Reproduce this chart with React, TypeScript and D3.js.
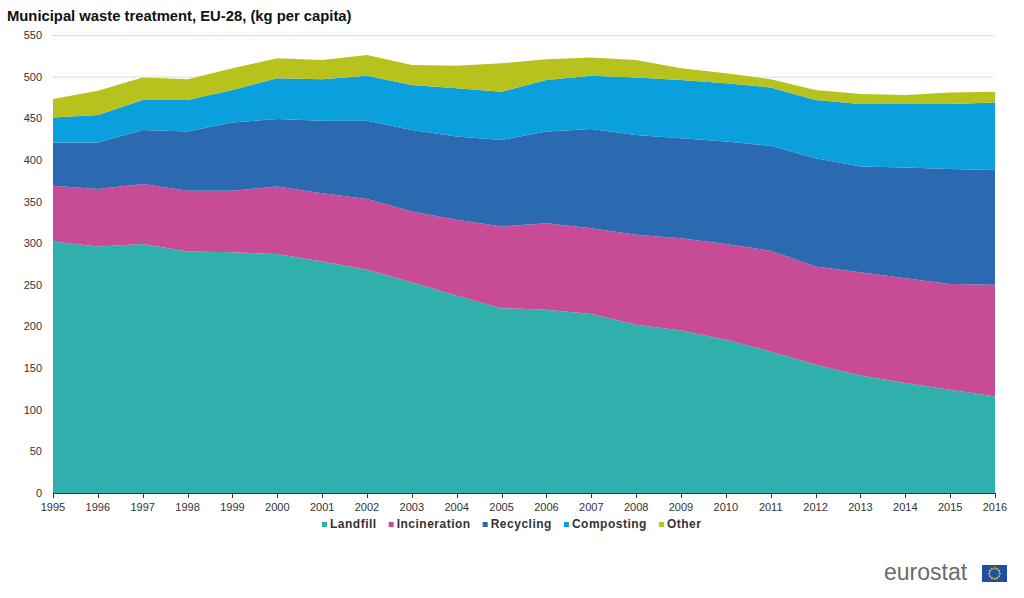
import React, { useEffect, useRef } from "react";
import * as d3 from "d3";

const years = [1995, 1996, 1997, 1998, 1999, 2000, 2001, 2002, 2003, 2004, 2005, 2006, 2007, 2008, 2009, 2010, 2011, 2012, 2013, 2014, 2015, 2016];
const landfill = [302, 296, 299, 290, 289, 287, 278, 268, 253, 237, 222, 220, 215, 202, 195, 184, 170, 154, 141, 132, 124, 116];
const incineration = [67, 69, 72, 73, 74, 81, 82, 85, 85, 91, 98, 104, 103, 108, 111, 115, 121, 118, 124, 126, 127, 134];
const recycling = [52, 56, 65, 71, 82, 81, 87, 94, 98, 100, 104, 110, 119, 120, 120, 123, 126, 130, 127, 133, 138, 138];
const composting = [30, 33, 36, 38, 39, 49, 50, 54, 54, 58, 58, 62, 64, 69, 70, 70, 70, 70, 75, 76, 78, 81];
const other = [22, 29, 27, 25, 26, 24, 23, 25, 24, 27, 34, 25, 22, 21, 14, 12, 10, 12, 12, 11, 14, 13];
const seriesNames = ["Landfill", "Incineration", "Recycling", "Composting", "Other"];
const seriesColors = ["#30b0ad", "#c84b95", "#2b69b0", "#0a9fdd", "#b7c21d"];
const yTicks = [0, 50, 100, 150, 200, 250, 300, 350, 400, 450, 500, 550];

const W = 1024;
const H = 598;
const font = "'Liberation Sans', Arial, sans-serif";

function App() {
  const ref = useRef<SVGSVGElement | null>(null);

  useEffect(() => {
    const svg = d3.select(ref.current);
    svg.selectAll("*").remove();

    const margin = { top: 35, right: 29, bottom: 105, left: 53 };
    const x = d3.scaleLinear().domain([1995, 2016]).range([margin.left, W - margin.right]);
    const y = d3.scaleLinear().domain([0, 550]).range([H - margin.bottom, margin.top]);

    const allSeries = [landfill, incineration, recycling, composting, other];
    const rows = years.map((yr, i) => {
      const row: any = { year: yr };
      seriesNames.forEach((n, k) => (row[n] = allSeries[k][i]));
      return row;
    });
    const stacked = d3.stack().keys(seriesNames)(rows);

    // title
    svg
      .append("text")
      .text("Municipal waste treatment, EU-28, (kg per capita)")
      .attr("x", 7)
      .attr("y", 21)
      .attr("font-family", font)
      .attr("font-weight", "bold")
      .attr("font-size", "14.8px")
      .attr("fill", "#111");

    // grid
    svg
      .append("g")
      .selectAll("line")
      .data(yTicks.filter((t) => t > 0))
      .enter()
      .append("line")
      .attr("x1", x(1995))
      .attr("x2", x(2016))
      .attr("y1", (d) => y(d) + 0.5)
      .attr("y2", (d) => y(d) + 0.5)
      .attr("stroke", "#bbb")
      .attr("stroke-width", 1)
      .attr("stroke-dasharray", "1,1");

    const area = d3
      .area<any>()
      .x((d) => x(d.data.year))
      .y0((d) => y(d[0]))
      .y1((d) => y(d[1]));

    svg
      .append("g")
      .selectAll("path")
      .data(stacked)
      .enter()
      .append("path")
      .attr("d", area)
      .attr("fill", (_, i) => seriesColors[i]);

    // y labels
    svg
      .append("g")
      .selectAll("text")
      .data(yTicks)
      .enter()
      .append("text")
      .text((d) => d)
      .attr("x", 42)
      .attr("y", (d) => y(d) + 4)
      .attr("text-anchor", "end")
      .attr("font-family", font)
      .attr("font-size", "11px")
      .attr("fill", "#333");

    // x axis
    const xAxis = svg.append("g");
    xAxis
      .append("line")
      .attr("x1", x(1995))
      .attr("x2", x(2016))
      .attr("y1", y(0) + 0.5)
      .attr("y2", y(0) + 0.5)
      .attr("stroke", "#333");
    xAxis
      .selectAll("line.tick")
      .data(years)
      .enter()
      .append("line")
      .attr("class", "tick")
      .attr("x1", (d) => Math.round(x(d)) + 0.5)
      .attr("x2", (d) => Math.round(x(d)) + 0.5)
      .attr("y1", y(0))
      .attr("y2", y(0) + 5)
      .attr("stroke", "#333");
    xAxis
      .selectAll("text")
      .data(years)
      .enter()
      .append("text")
      .text((d) => d)
      .attr("x", (d) => x(d))
      .attr("y", y(0) + 18)
      .attr("text-anchor", "middle")
      .attr("font-family", font)
      .attr("font-size", "11px")
      .attr("fill", "#333");

    // legend
    const legendItems = seriesNames.map((n, i) => ({ name: n, color: seriesColors[i] }));
    const legend = svg.append("g");
    let lx = 322;
    legendItems.forEach((it) => {
      const g = legend.append("g").attr("transform", `translate(${lx},528)`);
      g.append("rect").attr("x", 0).attr("y", -6).attr("width", 5).attr("height", 5).attr("fill", it.color);
      const t = g
        .append("text")
        .text(it.name)
        .attr("x", 8)
        .attr("y", 0)
        .attr("font-family", font)
        .attr("font-weight", "bold")
        .attr("font-size", "12px")
        .attr("letter-spacing", "0.5px")
        .attr("fill", "#333");
      const w = (t.node() as SVGTextElement).getComputedTextLength();
      lx += 8 + w + 12;
    });

    // eurostat logo
    svg
      .append("text")
      .text("eurostat")
      .attr("x", 884)
      .attr("y", 580)
      .attr("font-family", font)
      .attr("font-size", "23px")
      .attr("fill", "#6b6b6b");
    const flag = svg.append("g").attr("transform", "translate(982,565)");
    flag.append("rect").attr("width", 25).attr("height", 17).attr("fill", "#1f4ea3");
    const star = d3.symbol().type(d3.symbolStar).size(3);
    d3.range(12).forEach((k) => {
      const a = (k / 12) * 2 * Math.PI;
      flag
        .append("path")
        .attr("d", star())
        .attr("transform", `translate(${12.5 + 5.3 * Math.cos(a)},${8.5 + 5.3 * Math.sin(a)})`)
        .attr("fill", "#ffdd00");
    });
  }, []);

  return (
    <svg
      ref={ref}
      width={W}
      height={H}
      style={{ position: "absolute", left: 0, top: 0, background: "#fff" }}
    />
  );
}

export default App;
